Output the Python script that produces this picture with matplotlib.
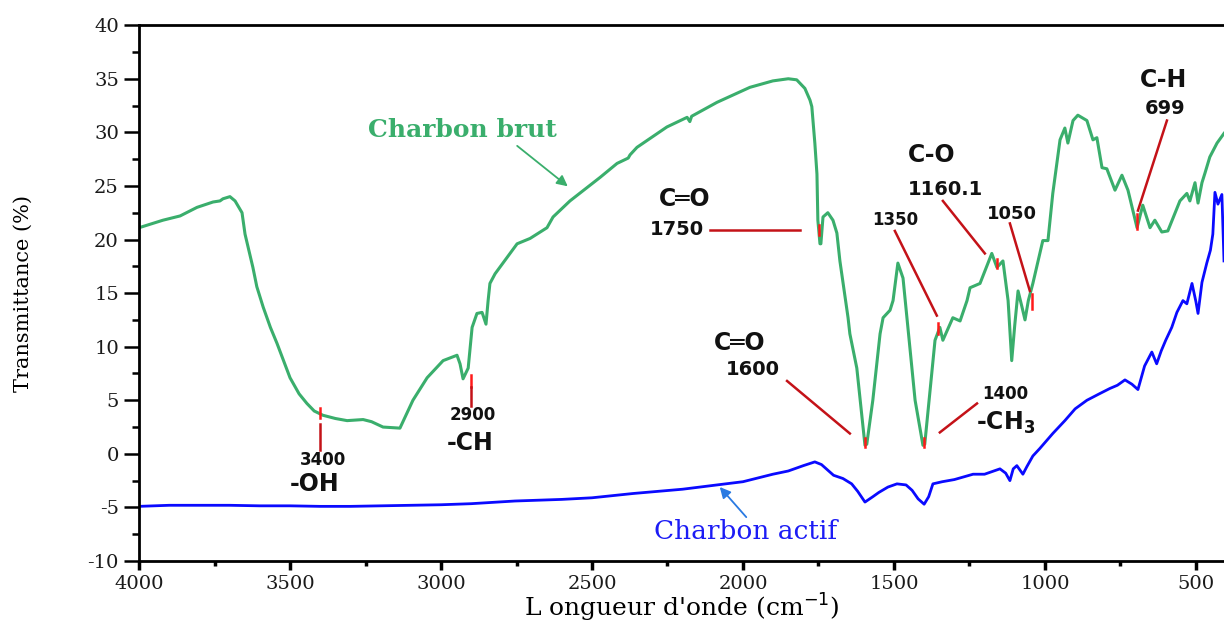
import numpy as np
import matplotlib.pyplot as plt

# FTIR spectra: raw coal (charbon brut) and activated carbon (charbon actif)
brut_wn = [4000, 3921, 3864, 3808, 3755, 3732, 3722, 3699, 3682, 3659, 3649, 3623,
           3610, 3589, 3565, 3543, 3520, 3500, 3470, 3444, 3420, 3391, 3350, 3311,
           3258, 3230, 3192, 3136, 3093, 3046, 2993,
           2947, 2937, 2927, 2910, 2897, 2881, 2864, 2851, 2844, 2838, 2821, 2748,
           2705, 2649, 2629, 2573, 2473, 2417, 2380, 2374, 2351, 2252, 2185, 2176,
           2170, 2086, 1977, 1901, 1850, 1822, 1795, 1778, 1772, 1762, 1755, 1752, 1745,
           1742, 1735, 1719, 1702, 1689, 1679, 1652, 1646, 1623, 1596, 1590, 1570,
           1546, 1536, 1513, 1503, 1487, 1470, 1457, 1430, 1404, 1398, 1364, 1348,
           1338, 1305, 1281, 1258, 1248, 1215, 1176, 1159, 1139, 1122, 1110, 1100,
           1089, 1076, 1066, 1055, 1040, 1007, 990, 974, 950, 934, 924, 907, 891,
           861, 841, 828, 811, 795, 768, 745, 725, 695, 676, 652, 636, 613, 593,
           553, 530, 520, 503, 493, 480, 470, 454, 430, 407]
brut_t = [21.1, 21.8, 22.2, 23.0, 23.5, 23.6, 23.8, 24.0, 23.6, 22.5, 20.5, 17.4,
          15.6, 13.7, 11.8, 10.3, 8.6, 7.1, 5.6, 4.7, 4.0, 3.6, 3.3, 3.1,
          3.2, 3.0, 2.5, 2.4, 5.0, 7.1, 8.7,
          9.2, 8.4, 7.0, 8.0, 11.8, 13.1, 13.2, 12.1, 14.3, 15.9, 16.8, 19.6,
          20.1, 21.1, 22.1, 23.6, 25.8, 27.1, 27.6, 27.9, 28.6, 30.5, 31.4, 31.0,
          31.5, 32.8, 34.2, 34.8, 35.0, 34.9, 34.1, 33.0, 32.4, 29.0, 26.1, 21.8, 19.6,
          19.6, 22.1, 22.5, 21.8, 20.6, 18.0, 12.7, 11.2, 8.0, 0.8, 0.9, 5.0,
          11.2, 12.7, 13.4, 14.3, 17.8, 16.4, 12.7, 5.0, 0.8, 0.9, 10.6, 11.8,
          10.6, 12.7, 12.4, 14.3, 15.5, 15.9, 18.7, 17.4, 18.0, 14.3, 8.7, 12.0,
          15.2, 13.7, 12.5, 14.3, 15.9, 19.9, 19.9, 24.3, 29.3, 30.4, 29.0, 31.1,
          31.6, 31.1, 29.3, 29.5, 26.7, 26.6, 24.6, 26.0, 24.6, 21.1, 23.2, 21.1,
          21.8, 20.7, 20.8, 23.6, 24.3, 23.6, 25.3, 23.4, 25.3, 26.2, 27.7, 29.0, 29.9]

actif_wn = [4000, 3900, 3800, 3700, 3600, 3500, 3400, 3300, 3200, 3100, 3000, 2900,
            2755, 2600, 2500, 2364, 2200, 2086, 2000, 1901, 1850, 1800, 1762, 1740,
            1700, 1669, 1640, 1620, 1596, 1570, 1550, 1520, 1490, 1460, 1440, 1420,
            1400, 1385, 1371, 1340, 1300, 1238, 1200, 1149, 1130, 1116, 1105, 1093,
            1073, 1060, 1040, 1017, 974, 934, 900, 861, 820, 785, 760, 735, 712, 692,
            670, 646, 630, 615, 600, 580, 563, 543, 530, 513, 500, 493, 480, 464,
            452, 444, 437, 427, 414, 407]
actif_t = [-4.9, -4.8, -4.8, -4.8, -4.85, -4.85, -4.9, -4.9, -4.85, -4.8, -4.75, -4.65,
           -4.4, -4.25, -4.1, -3.7, -3.3, -2.9, -2.6, -1.9, -1.6, -1.1, -0.75, -1.0,
           -2.0, -2.3, -2.8, -3.5, -4.5, -4.0, -3.6, -3.1, -2.8, -2.9, -3.4, -4.2,
           -4.7, -4.0, -2.8, -2.6, -2.4, -1.9, -1.9, -1.4, -1.8, -2.5, -1.4, -1.1,
           -1.9, -1.2, -0.2, 0.5, 1.9, 3.1, 4.2, 5.0, 5.6, 6.1, 6.4, 6.9, 6.5, 6.0,
           8.2, 9.5, 8.4, 9.6, 10.6, 11.8, 13.2, 14.3, 14.0, 15.9, 14.2, 13.1, 16.0, 17.8,
           19.0, 20.5, 24.4, 23.3, 24.2, 18.0]

# band positions: (wavenumber, curve mark y0, y1)
marks = [(3400, 4.3, 3.3), (2900, 7.4, 6.2), (1748, 21.4, 20.4), (1596, 1.5, 0.6),
         (1401, 1.5, 0.6), (1354, 12.2, 11.2), (1159, 18.2, 17.3), (1043, 14.9, 13.5),
         (695, 22.4, 21.0)]
# leader lines: (x0, y0, x1, y1)
leaders = [(3400, 2.8, 3400, 0.4), (2901, 6.2, 2901, 4.5), (2109, 20.9, 1811, 20.9),
           (1854, 6.8, 1646, 1.9), (1348, 2.0, 1225, 4.7), (1497, 20.8, 1358, 12.9),
           (1338, 23.6, 1199, 18.7), (1116, 21.5, 1050, 15.2), (596, 31.1, 692, 22.7)]
# (text, x, y, size)
labels = [("3400", 3390, -0.6, 12), ("-OH", 3420, -2.8, 17),
          ("2900", 2894, 3.6, 12), ("-CH", 2905, 1.0, 17),
          ("C\u2550O", 2192, 23.8, 17), ("1750", 2219, 20.9, 14),
          ("C\u2550O", 2010, 10.3, 17), ("1600", 1967, 7.85, 14),
          ("1400", 1132, 5.6, 12), (r"-CH$_\mathbf{3}$", 1130, 2.9, 17),
          ("1350", 1497, 21.8, 12), ("C-O", 1374, 27.9, 17),
          ("1160.1", 1331, 24.7, 14), ("1050", 1109, 22.4, 13),
          ("C-H", 609, 34.9, 17), ("699", 603, 32.2, 14)]

plt.rcParams['mathtext.fontset'] = 'dejavusans'
plt.rcParams['axes.unicode_minus'] = False
serif = 'DejaVu Serif'

fig = plt.figure(figsize=(12.24, 6.26), dpi=100)
ax = fig.add_axes([0.1136, 0.1038, 1 - 0.1136, 0.856])

green = '#3aae6c'
blue = '#0a0aff'
ax.plot(brut_wn, brut_t, color=green, lw=2.2)
ax.plot(actif_wn, actif_t, color=blue, lw=2.0)

for x, y0, y1 in marks:
    ax.plot([x, x], [y0, y1], color='#ff1a1a', lw=1.8, zorder=4)
for x0, y0, x1, y1 in leaders:
    ax.plot([x0, x1], [y0, y1], color='#c41218', lw=1.8, zorder=4)
for txt, x, y, s in labels:
    ax.text(x, y, txt, fontsize=s, fontweight='bold', family='DejaVu Sans',
            ha='center', va='center', color='#111111')

ax.text(2930, 30.2, 'Charbon brut', fontsize=18, fontweight='bold', family=serif,
        color=green, ha='center', va='center')
ax.annotate('', xy=(2573, 24.8), xytext=(2755, 28.9),
            arrowprops=dict(arrowstyle='-|>', color=green, lw=1.3, mutation_scale=16))
ax.text(1990, -7.2, 'Charbon actif', fontsize=19, family=serif,
        color='#1c1cf5', ha='center', va='center')
ax.annotate('', xy=(2083, -2.9), xytext=(1983, -6.1),
            arrowprops=dict(arrowstyle='-|>', color='#2a7ae2', lw=1.3, mutation_scale=16))

ax.set_xlim(4000, 407)
ax.set_ylim(-10, 40)
ax.set_xticks(np.arange(4000, 400, -500))
ax.set_xticks(np.arange(3750, 400, -500), minor=True)
ax.set_yticks(np.arange(-10, 41, 5))
ax.set_yticks(np.arange(-7.5, 40, 5), minor=True)

ax.spines['right'].set_visible(False)
for s in ['left', 'top', 'bottom']:
    ax.spines[s].set_linewidth(2.0)
ax.tick_params(axis='y', which='major', length=11, width=1.8, direction='out')
ax.tick_params(axis='y', which='minor', length=5, width=1.8, direction='out')
ax.tick_params(axis='x', which='major', length=6.5, width=2.5, direction='out')
ax.tick_params(axis='x', which='minor', length=3.6, width=2.5, direction='out')
for lab in ax.get_xticklabels() + ax.get_yticklabels():
    lab.set_family(serif)
    lab.set_fontsize(14)
    lab.set_color('#1a1a1a')

ax.set_xlabel("L ongueur d'onde (cm$^{-1}$)", family=serif, fontsize=18)
ax.set_ylabel('Transmittance (%)', family=serif, fontsize=15)
ax.xaxis.set_label_coords(0.5, -0.058)
ax.yaxis.set_label_coords(-0.098, 0.5)

fig.savefig('out.png', dpi=100)
